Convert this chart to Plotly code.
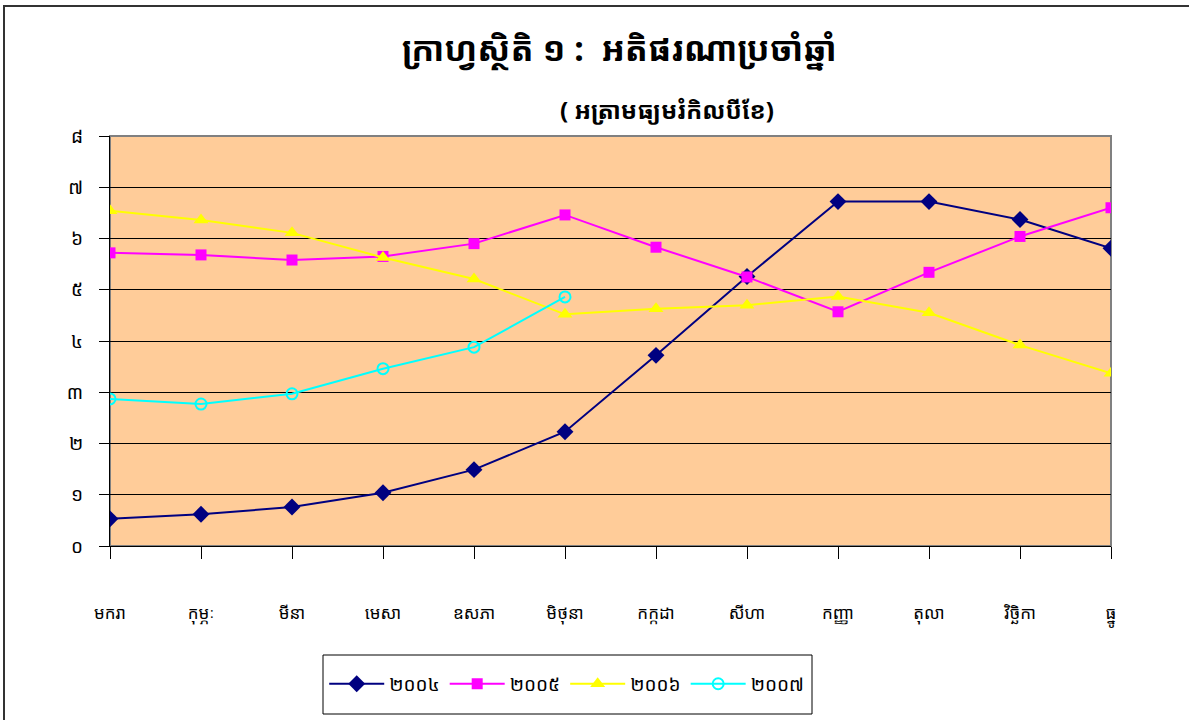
import plotly.graph_objects as go

months = ["មករា", "កុម្ភៈ", "មីនា", "មេសា", "ឧសភា", "មិថុនា",
          "កក្កដា", "សីហា", "កញ្ញា", "តុលា", "វិច្ឆិកា", "ធ្នូ"]

y2004 = [0.53, 0.62, 0.76, 1.04, 1.49, 2.23, 3.72, 5.26, 6.72, 6.72, 6.37, 5.81]
y2005 = [5.72, 5.68, 5.58, 5.65, 5.90, 6.46, 5.83, 5.25, 4.57, 5.34, 6.04, 6.60]
y2006 = [6.54, 6.36, 6.11, 5.63, 5.21, 4.52, 4.63, 4.70, 4.87, 4.55, 3.92, 3.37]
y2007 = [2.87, 2.77, 2.97, 3.46, 3.88, 4.86]

yticks = [0, 1, 2, 3, 4, 5, 6, 7, 8]
ytick_text = ["០", "១", "២", "៣", "៤", "៥", "៦", "៧", "៨"]

KH = "Khmer OS, Noto Sans Khmer, Noto Sans, DejaVu Sans, sans-serif"

fig = go.Figure()
fig.add_trace(go.Scatter(x=months, y=y2004, name="២០០៤", mode="lines+markers",
                         line=dict(color="#000080", width=2),
                         marker=dict(symbol="diamond", size=13, color="#000080")))
fig.add_trace(go.Scatter(x=months, y=y2005, name="២០០៥", mode="lines+markers",
                         line=dict(color="#FF00FF", width=2),
                         marker=dict(symbol="square", size=11, color="#FF00FF")))
fig.add_trace(go.Scatter(x=months, y=y2006, name="២០០៦", mode="lines+markers",
                         line=dict(color="#FFFF00", width=2),
                         marker=dict(symbol="triangle-up", size=13, color="#FFFF00")))
fig.add_trace(go.Scatter(x=months[:len(y2007)], y=y2007, name="២០០៧", mode="lines+markers",
                         line=dict(color="#00FFFF", width=2),
                         marker=dict(symbol="circle-open", size=11, color="#00FFFF",
                                     line=dict(width=2))))

fig.update_layout(
    width=1189, height=720,
    margin=dict(l=110, r=78, t=136, b=174),
    paper_bgcolor="white", plot_bgcolor="#FFCC99",
    font=dict(family=KH, color="black", size=17),
    showlegend=True,
    legend=dict(orientation="h", x=0.214, y=-0.29, xanchor="left", yanchor="top",
                borderwidth=0, bgcolor="rgba(0,0,0,0)",
                font=dict(size=19), itemwidth=55, tracegroupgap=0),
    annotations=[
        dict(text="<b>ក្រាហ្វស្ថិតិ ១ :  អតិផរណាប្រចាំឆ្នាំ</b>", xref="paper", yref="paper",
             x=(619 - 110) / 1001, y=(546 - 48) / 410, xanchor="center", yanchor="middle",
             showarrow=False, font=dict(size=34, family=KH)),
        dict(text="<b>( អត្រាមធ្យមរំកិលបីខែ)</b>", xref="paper", yref="paper",
             x=(667 - 110) / 1001, y=(546 - 110) / 410, xanchor="center", yanchor="middle",
             showarrow=False, font=dict(size=24, family=KH)),
    ],
    shapes=[
        dict(type="rect", xref="paper", yref="paper", x0=0, x1=1, y0=0, y1=1,
             line=dict(color="#808080", width=2), layer="below"),
        # outer chart frame
        dict(type="rect", xref="paper", yref="paper",
             x0=(4 - 110) / 1001, x1=(1200 - 110) / 1001,
             y0=(546 - 730) / 410, y1=(546 - 6) / 410,
             line=dict(color="#333333", width=2)),
        # legend box
        dict(type="rect", xref="paper", yref="paper",
             x0=(323 - 110) / 1001, x1=(812 - 110) / 1001,
             y0=(546 - 714) / 410, y1=(546 - 655) / 410,
             line=dict(color="black", width=1), fillcolor="white", layer="below"),
    ],
)

fig.update_xaxes(type="category", range=[0, 11], showgrid=False,
                 showline=True, linecolor="black", linewidth=1,
                 ticks="outside", ticklen=12, tickcolor="black",
                 ticklabelstandoff=40, tickfont=dict(size=17))
fig.update_yaxes(range=[0, 8], tickvals=yticks, ticktext=ytick_text,
                 showgrid=True, gridcolor="black", gridwidth=1,
                 showline=True, linecolor="black", linewidth=1,
                 ticks="outside", ticklen=10, tickcolor="black",
                 ticklabelstandoff=12, zeroline=False, tickfont=dict(size=19))

fig.write_html("out.html", config={"displayModeBar": False},
               post_script="document.body.style.margin='0';document.body.style.overflow='hidden';")
